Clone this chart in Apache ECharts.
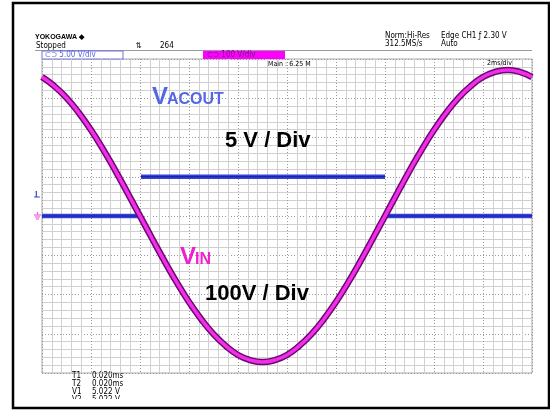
<!DOCTYPE html>
<html>
<head>
<meta charset="utf-8">
<script src="https://cdn.jsdelivr.net/npm/echarts@6/dist/echarts.min.js"></script>
<style>
html,body{margin:0;padding:0;background:#fff;}
#c{width:550px;height:410px;}
</style>
</head>
<body>
<div id="c"></div>
<script>
// Time axis (ms), 2 ms/div, 10 divisions
var timeMs = [0,0.5,1,1.5,2,2.5,3,3.5,4,4.5,5,5.5,6,6.5,7,7.5,8,8.5,9,9.5,10,10.5,11,11.5,12,12.5,13,13.5,14,14.5,15,15.5,16,16.5,17,17.5,18,18.5,19,19.5,20];
// VIN trace (V), 100 V/div
var vinVolts = [354,331,301,263,219,169,115,58,0,-58,-115,-169,-219,-263,-301,-331,-354,-367,-372,-367,-354,-331,-301,-263,-219,-169,-115,-58,0,58,115,169,219,263,301,331,354,367,372,367,354];
// VACOUT trace (V), 5 V/div (null = gap at the fast edges)
var acoutTime = [0,4.02,4.02,4.04,14.0,14.0,14.02,20];
var acoutVolts = [0,0,null,5.0,5.0,null,0,0];
// readout texts
var readoutLabels = ['T1','T2','V1','V2'];
var readoutValues = ['0.020ms','0.020ms','5.022 V','5.022 V'];

var vinData = timeMs.map(function(t,i){return [t, vinVolts[i]];});
var acData = acoutTime.map(function(t,i){return [t, acoutVolts[i] === null ? '-' : acoutVolts[i]];});

var chart = echarts.init(document.getElementById('c'), null, {renderer:'canvas'});
var small = '8px "DejaVu Sans Condensed", "Liberation Sans Narrow", sans-serif';
var graphics = [
  {type:'rect', shape:{x:13,y:3,width:536,height:405}, style:{fill:'none', stroke:'#000', lineWidth:2.5}, z:100},
  {type:'text', x:35, y:34, style:{text:'YOKOGAWA \u25C6', font:'bold 7px "Liberation Sans", sans-serif', fill:'#000'}},
  {type:'text', x:36, y:42, style:{text:'Stopped', font:small, fill:'#000'}},
  {type:'text', x:136, y:42, style:{text:'\u21C5', font:small, fill:'#000'}},
  {type:'text', x:160, y:42, style:{text:'264', font:small, fill:'#000'}},
  {type:'text', x:385, y:32, style:{text:'Norm:Hi-Res', font:small, fill:'#000'}},
  {type:'text', x:385, y:40, style:{text:'312.5MS/s', font:small, fill:'#000'}},
  {type:'text', x:441, y:32, style:{text:'Edge CH1 \u0192 2.30 V', font:small, fill:'#000'}},
  {type:'text', x:441, y:40, style:{text:'Auto', font:small, fill:'#000'}},
  {type:'line', shape:{x1:35,y1:50.5,x2:532,y2:50.5}, style:{stroke:'#999', lineWidth:1}},
  {type:'rect', shape:{x:42,y:51,width:81,height:8}, style:{fill:'#fff', stroke:'#6c74e0', lineWidth:1}},
  {type:'text', x:45, y:51, style:{text:'\u2282\u2283 5.00 V/div', font:small, fill:'#5a64e0'}},
  {type:'rect', shape:{x:203,y:51,width:82,height:8}, style:{fill:'#ff00ff', stroke:'none'}},
  {type:'text', x:207, y:51, style:{text:'\u2282\u2283 100 V/div', font:small, fill:'#6a1080'}},
  {type:'text', x:268, y:61, style:{text:'Main : 6.25 M', font:'7px "DejaVu Sans Condensed", sans-serif', fill:'#000'}, z:50},
  {type:'text', x:487, y:60, style:{text:'2ms/div', font:'7px "DejaVu Sans Condensed", sans-serif', fill:'#000'}, z:50},
  {type:'text', x:34, y:190, style:{text:'1', font:'bold 9px "Liberation Serif", serif', fill:'#4a52d8'}},
  {type:'line', shape:{x1:34,y1:197,x2:40,y2:197}, style:{stroke:'#4a52d8', lineWidth:1}},
  {type:'line', shape:{x1:34,y1:215,x2:41,y2:215}, style:{stroke:'#f060e0', lineWidth:1.2}},
  {type:'line', shape:{x1:35,y1:217,x2:40,y2:217}, style:{stroke:'#f060e0', lineWidth:1.2}},
  {type:'line', shape:{x1:36,y1:219,x2:39,y2:219}, style:{stroke:'#f060e0', lineWidth:1.2}},
  {type:'line', shape:{x1:37.5,y1:212,x2:37.5,y2:215}, style:{stroke:'#f060e0', lineWidth:1.2}},
  {type:'text', x:152, y:85, style:{text:'V', font:'bold 24px "Liberation Sans", Arial, sans-serif', fill:'#5468e6'}, z:60},
  {type:'text', x:167, y:92, style:{text:'ACOUT', font:'bold 16px "Liberation Sans", Arial, sans-serif', fill:'#5468e6'}, z:60},
  {type:'text', x:225, y:130, style:{text:'5 V / Div', font:'bold 22px "Liberation Sans", Arial, sans-serif', fill:'#000'}, z:60},
  {type:'text', x:180, y:245, style:{text:'V', font:'bold 24px "Liberation Sans", Arial, sans-serif', fill:'#f020d0'}, z:60},
  {type:'text', x:195, y:252, style:{text:'IN', font:'bold 16px "Liberation Sans", Arial, sans-serif', fill:'#f020d0'}, z:60},
  {type:'text', x:205, y:283, style:{text:'100V / Div', font:'bold 22px "Liberation Sans", Arial, sans-serif', fill:'#000'}, z:60}
];
readoutLabels.forEach(function(l,i){
  graphics.push({type:'text', x:72, y:372+i*8, style:{text:l, font:small, fill:'#000'}});
  graphics.push({type:'text', x:92, y:372+i*8, style:{text:readoutValues[i], font:small, fill:'#000'}});
});
graphics.push({type:'rect', shape:{x:60,y:399,width:80,height:8}, style:{fill:'#fff'}, z:90});

var gridLineMajor = {show:true, lineStyle:{color:'#9a9a9a', type:[1,2], width:1}};
var gridLineMinor = {show:true, lineStyle:{color:'#d0d0d0', width:1}};

chart.setOption({
  animation:false,
  backgroundColor:'#fff',
  grid:{left:42, top:59, width:490, height:314, show:true, borderColor:'#a8a8a8', borderWidth:1, backgroundColor:'#fff'},
  xAxis:{type:'value', min:0, max:20, interval:2, axisLabel:{show:false}, axisTick:{show:false}, axisLine:{show:false},
         splitLine:gridLineMajor, minorTick:{show:false, splitNumber:5}, minorSplitLine:gridLineMinor},
  yAxis:[
    {type:'value', min:-400, max:400, interval:100, axisLabel:{show:false}, axisTick:{show:false}, axisLine:{show:false},
     splitLine:gridLineMajor, minorTick:{show:false, splitNumber:5}, minorSplitLine:gridLineMinor},
    {type:'value', min:-20, max:20, interval:5, show:false, splitLine:{show:false}}
  ],
  series:[
    {type:'line', name:'VACOUT', data:acData, yAxisIndex:1, symbol:'none', connectNulls:false, lineStyle:{color:'#3444dc', width:4.5}, z:3},
    {type:'line', name:'VACOUT core', data:acData, yAxisIndex:1, symbol:'none', connectNulls:false, lineStyle:{color:'#16169a', width:1.2}, z:4},
    {type:'line', name:'VIN edge', data:vinData, yAxisIndex:0, smooth:true, symbol:'none', lineStyle:{color:'#6a0a70', width:6.5}, z:5},
    {type:'line', name:'VIN', data:vinData, yAxisIndex:0, smooth:true, symbol:'none', lineStyle:{color:'#f22ee8', width:3.5}, z:6}
  ],
  graphic:graphics
});
</script>
</body>
</html>
